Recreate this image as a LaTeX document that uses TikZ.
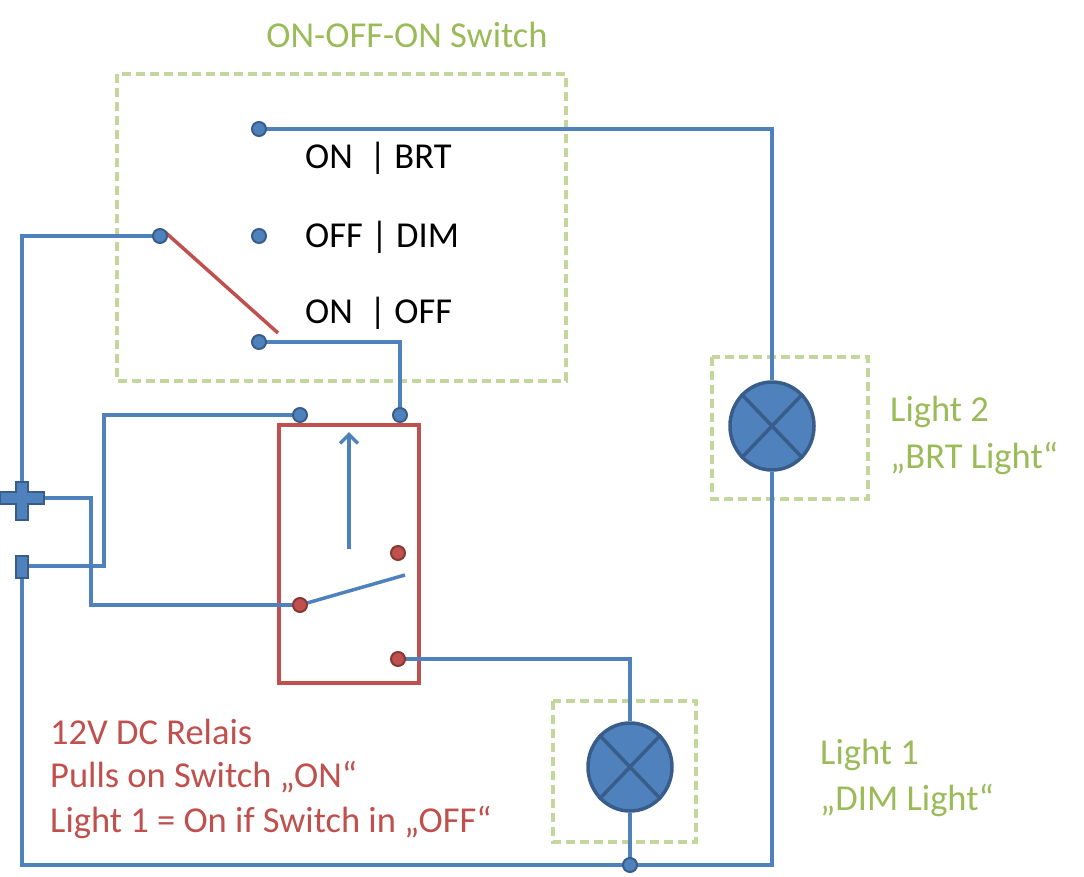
\documentclass[tikz,border=0pt]{standalone}
\usetikzlibrary{arrows.meta,shapes.geometric}
\usepackage{fontspec}
\setmainfont{Carlito}
\definecolor{bl}{HTML}{4F81BD}
\definecolor{dbl}{HTML}{385D8A}
\definecolor{rd}{HTML}{C0504D}
\definecolor{gr}{HTML}{9BBB59}
\definecolor{lgr}{HTML}{C3D69B}
\begin{document}
\begin{tikzpicture}[x=1pt,y=-1pt,
 w/.style={bl,line width=3.5pt},
 bdot/.style={circle,fill=bl,draw=dbl,line width=2pt,inner sep=0,minimum size=14pt},
 rdot/.style={circle,fill=rd,draw=rd!70!black,line width=2pt,inner sep=0,minimum size=14pt},
 box/.style={lgr,line width=3.5pt,dash pattern=on 9pt off 5pt},
 lab/.style={font=\fontsize{36.5}{40}\selectfont,anchor=west,inner sep=0},
 lamp/.style={ellipse,fill=bl,draw=dbl,line width=3.5pt,minimum width=84pt,minimum height=88pt,inner sep=0}]
\useasboundingbox (0,0) rectangle (1084,876);
\draw[box] (117,74) rectangle (566,381);
\draw[box] (712,357) rectangle (868,499);
\draw[box] (553,701) rectangle (696,842);
\node[lab,gr,anchor=center] (title) at (407,35) {ON-OFF-ON Switch};
\node[lab] (l1) at (305,158) {ON\ \ | BRT};
\node[lab] (l2) at (305,237) {OFF | DIM};
\node[lab] (l3) at (305,313) {ON\ \ | OFF};
\node[lab,gr] (g1) at (890,412) {Light 2};
\node[lab,gr] (g2) at (890,458) {„BRT Light“};
\node[lab,gr] (g3) at (820,755) {Light 1};
\node[lab,gr] (g4) at (820,800) {„DIM Light“};
\node[lab,rd] (r1) at (50,732) {12V DC Relais};
\node[lab,rd] (r2) at (50,777) {Pulls on Switch „ON“};
\node[lab,rd] (r3) at (50,822) {Light 1 = On if Switch in „OFF“};
% relay
\draw[rd,line width=3.5pt] (279,425) rectangle (419,683);
\coordinate (ab) at (349,549); \coordinate (at) at (349,432);
\draw[w,-{Straight Barb[length=9pt,width=18pt]}] (ab) -- (at);
% lamps
\node[lamp] (L2) at (772,426) {};
\node[lamp] (L1) at (630,767) {};
\foreach \L in {L1,L2}{\draw[dbl,line width=3.5pt] (\L.north east)--(\L.south west) (\L.north west)--(\L.south east);}
% coordinates
\coordinate (c1) at (772,129);
\coordinate (c2) at (22,236);
\coordinate (c3) at (400,342);
\coordinate (c4) at (104,415);
\coordinate (c5) at (104,566);
\coordinate (c6) at (91,498);
\coordinate (c7) at (91,605);
\coordinate (c8) at (630,659);
\coordinate (c9) at (22,865);
\coordinate (c10) at (772,865);
\coordinate (lev) at (405,575);
\coordinate (sl) at (278,333);
% wires
\draw[w] (259,129) -- (c1) -- (L2.north);
\draw[w] (160,236) -- (c2) -- (22,490);
\draw[w] (259,342) -- (c3) -- (400,415);
\draw[w] (300,415) -- (c4) -- (c5) -- (28,566);
\draw[w] (30,498) -- (c6) -- (c7) -- (300,605);
\draw[w] (398,659) -- (c8) -- (L1.north);
\draw[w] (22,578) -- (c9) -- (c10) -- (L2.south);
\draw[w] (L1.south) -- (630,865);
\draw[rd,line width=3.5pt] (165,232) -- (sl);
\draw[w] (300,605) -- (lev);
% dots
\node[bdot] (t1) at (259,129) {};
\node[bdot] (t2) at (259,236) {};
\node[bdot] (t3) at (160,236) {};
\node[bdot] (t4) at (259,342) {};
\node[bdot] (t5) at (300,415) {};
\node[bdot] (t6) at (400,415) {};
\node[bdot] (t7) at (630,865) {};
\node[rdot] (r4) at (398,553) {};
\node[rdot] (r5) at (300,605) {};
\node[rdot] (r6) at (398,659) {};
% plus / minus
\draw[fill=bl,draw=dbl,line width=2.5pt] (0,492)--(16,492)--(16,482)--(28,482)--(28,492)--(44,492)--(44,504)--(28,504)--(28,520)--(16,520)--(16,504)--(0,504)--cycle;
\draw[fill=bl,draw=dbl,line width=2.5pt] (16,556) rectangle (28,578);
\end{tikzpicture}
\end{document}
